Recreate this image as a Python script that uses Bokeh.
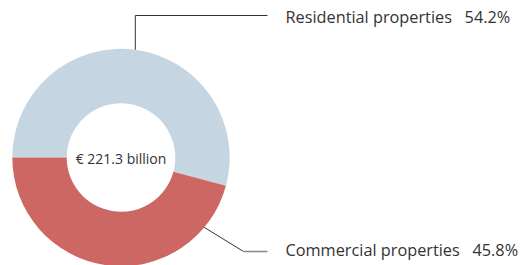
import math
from bokeh.plotting import figure
from bokeh.models import Range1d, ColumnDataSource
from bokeh.core.properties import value
from bokeh.embed import file_html
from bokeh.resources import INLINE

# ---- data ----
categories = ["Residential properties", "Commercial properties"]
shares = [54.2, 45.8]
colors = ["#c5d5e2", "#cd6764"]
total_label = "€ 221.3 billion"

W, H = 526, 265
p = figure(width=W, height=H, output_backend="svg", toolbar_location=None,
           x_range=Range1d(0, W), y_range=Range1d(0, H),
           x_axis_type=None, y_axis_type=None, min_border=0,
           outline_line_color=None, background_fill_color="white")
p.grid.visible = False

cx, cy = 120.5, 108.0
R_out, R_in = 108.7, 54.3

# commercial starts at left (180 deg) going counter-clockwise through bottom
com_start = math.pi
com_end = com_start + 2 * math.pi * shares[1] / 100.0
res_start = com_end
res_end = math.pi + 2 * math.pi

src = ColumnDataSource(dict(
    start=[res_start, com_start],
    end=[res_end, com_end],
    color=colors,
))
p.annular_wedge(x=cx, y=cy, inner_radius=R_in, outer_radius=R_out,
                start_angle="start", end_angle="end", color="color",
                line_color=None, source=src)

# center label
p.text(x=[cx], y=[cy - 1], text=[total_label], text_align="center",
       text_baseline="middle", text_font=value("Open Sans"),
       text_font_size="14px", text_color="#333333")

font = value("Open Sans")
label_x = 285
hline_end = 267
gap = "\u00a0\u00a0\u00a0"

# residential leader from mid angle
res_mid = (res_start + res_end) / 2
ax = cx + R_out * math.cos(res_mid)
ay = cy + R_out * math.sin(res_mid)
ytop = 250
p.line(x=[ax, ax, hline_end], y=[ay, ytop, ytop], line_color="#333333", line_width=1)
p.text(x=[label_x], y=[ytop - 1], text=[f"{categories[0]}{gap}{shares[0]}%"],
       text_baseline="middle", text_font=font, text_font_size="16.3px",
       text_color="#333333")

# commercial leader
com_anchor = math.radians(-40)
bx = cx + R_out * math.cos(com_anchor)
by = cy + R_out * math.sin(com_anchor)
ybot = 14
p.line(x=[bx, 243], y=[by, ybot], line_color="#333333", line_width=1)
p.line(x=[243, hline_end], y=[ybot, ybot], line_color="#888888", line_width=1.5)
p.text(x=[label_x], y=[ybot + 2], text=[f"{categories[1]}{gap}{shares[1]}%"],
       text_baseline="middle", text_font=font, text_font_size="16.3px",
       text_color="#333333")

open("out.html", "w").write(file_html(p, INLINE))
